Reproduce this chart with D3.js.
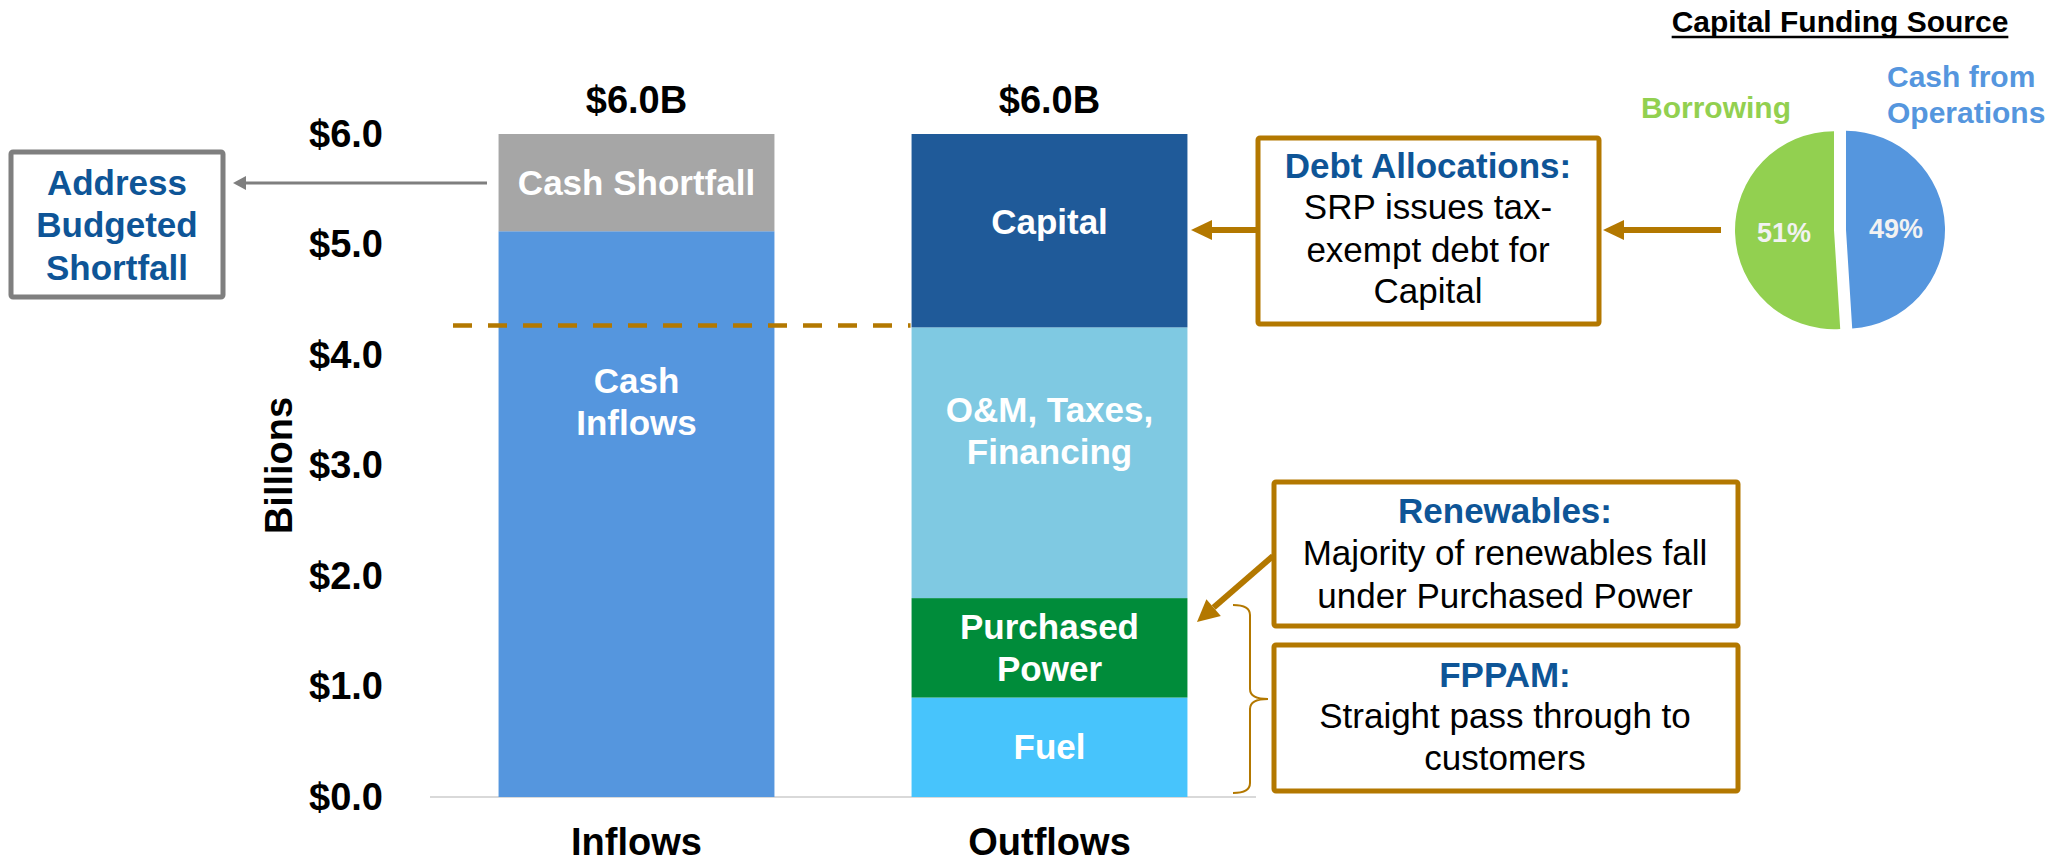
<!DOCTYPE html>
<html>
<head>
<meta charset="utf-8">
<script src="https://cdn.jsdelivr.net/npm/d3@7"></script>
<style>
  html, body { margin: 0; padding: 0; background: #fff; }
  svg { display: block; font-family: "Liberation Sans", Arial, sans-serif; }
</style>
</head>
<body>
<svg id="chart" width="2051" height="863"></svg>
<script>
// ---------------- DATA ----------------
const categories = ["Inflows", "Outflows"];
const totalLabels = ["$6.0B", "$6.0B"];

const inflowSegments = ["Cash Inflows", "Cash Shortfall"];
const inflowValues = [5.12, 0.88];

const outflowSegments = ["Fuel", "Purchased Power", "O&M, Taxes, Financing", "Capital"];
const outflowValues = [0.9, 0.9, 2.45, 1.75];

const yTicks = [0, 1, 2, 3, 4, 5, 6];
const debtThreshold = 4.25;

const pieNames = ["Cash from Operations", "Borrowing"];
const pieValues = [49, 51];

// ---------------- STYLE ----------------
const segColors = {
  "Cash Inflows": "#5596DE",
  "Cash Shortfall": "#A6A6A6",
  "Fuel": "#47C4FC",
  "Purchased Power": "#008C3A",
  "O&M, Taxes, Financing": "#7FC9E2",
  "Capital": "#1F5A99"
};
const segLabelLines = {
  "Cash Inflows": ["Cash", "Inflows"],
  "Cash Shortfall": ["Cash Shortfall"],
  "Fuel": ["Fuel"],
  "Purchased Power": ["Purchased", "Power"],
  "O&M, Taxes, Financing": ["O&M, Taxes,", "Financing"],
  "Capital": ["Capital"]
};
// vertical shift of label block relative to segment centre (px)
const segLabelShift = {
  "Cash Inflows": -112, "Cash Shortfall": 0, "Fuel": 0,
  "Purchased Power": 0, "O&M, Taxes, Financing": -32, "Capital": -9
};
const pieColors = ["#5596DE", "#92D050"];
const gold = "#B37800";
const headBlue = "#0E5597";

const svg = d3.select("#chart");

// ---------------- SCALES ----------------
const y = d3.scaleLinear().domain([0, 6]).range([797, 134]);
const x = d3.scaleBand().domain(categories).range([430, 1256])
  .paddingInner(0.332).paddingOuter(0.166);

// Stack data
function stackUp(names, vals) {
  let acc = 0;
  return names.map((n, i) => { const d = { name: n, y0: acc, y1: acc + vals[i] }; acc += vals[i]; return d; });
}
const stacks = [
  { cat: categories[0], segs: stackUp(inflowSegments, inflowValues) },
  { cat: categories[1], segs: stackUp(outflowSegments, outflowValues) }
];

// ---------------- AXES ----------------
// baseline
svg.append("line")
  .attr("x1", x.range()[0]).attr("x2", x.range()[1])
  .attr("y1", y(0)).attr("y2", y(0))
  .attr("stroke", "#D9D9D9").attr("stroke-width", 2);

const yAxis = svg.append("g").attr("transform", "translate(383,0)")
  .call(d3.axisLeft(y).tickValues(yTicks).tickSize(0).tickPadding(0)
    .tickFormat(d => "$" + d.toFixed(1)));
yAxis.select(".domain").remove();
yAxis.selectAll("text").attr("font-size", 38).attr("font-weight", "bold")
  .attr("fill", "#000").attr("font-family", "Liberation Sans, Arial, sans-serif");

const xAxis = svg.append("g").attr("transform", `translate(0,${y(0)})`)
  .call(d3.axisBottom(x).tickSize(0).tickPadding(31));
xAxis.select(".domain").remove();
xAxis.selectAll("text").attr("font-size", 38).attr("font-weight", "bold")
  .attr("fill", "#000").attr("font-family", "Liberation Sans, Arial, sans-serif");

// y-axis title
svg.append("text")
  .attr("transform", `translate(292,${(y(0) + y(6)) / 2}) rotate(-90)`)
  .attr("text-anchor", "middle")
  .attr("font-size", 38).attr("font-weight", "bold").attr("fill", "#000")
  .text("Billions");

// ---------------- BARS ----------------
stacks.forEach(st => {
  const g = svg.append("g");
  g.selectAll("rect").data(st.segs).join("rect")
    .attr("x", x(st.cat)).attr("width", x.bandwidth())
    .attr("y", d => y(d.y1)).attr("height", d => y(d.y0) - y(d.y1))
    .attr("fill", d => segColors[d.name]);
  st.segs.forEach(d => {
    const lines = segLabelLines[d.name];
    const cy = (y(d.y0) + y(d.y1)) / 2 + segLabelShift[d.name];
    const lh = 42;
    const t = g.append("text").attr("text-anchor", "middle")
      .attr("font-size", 35).attr("font-weight", "bold").attr("fill", "#fff");
    lines.forEach((ln, i) => {
      t.append("tspan").attr("x", x(st.cat) + x.bandwidth() / 2)
        .attr("y", cy + (i - (lines.length - 1) / 2) * lh + 12)
        .text(ln);
    });
  });
});

// totals above bars
svg.selectAll(".total").data(categories).join("text")
  .attr("class", "total")
  .attr("x", d => x(d) + x.bandwidth() / 2)
  .attr("y", y(6) - 21)
  .attr("text-anchor", "middle")
  .attr("font-size", 38).attr("font-weight", "bold").attr("fill", "#000")
  .text((d, i) => totalLabels[i]);

// dashed threshold line
svg.append("line")
  .attr("x1", 453).attr("x2", x(categories[1]) - 1)
  .attr("y1", y(debtThreshold) - 2).attr("y2", y(debtThreshold) - 2)
  .attr("stroke", gold).attr("stroke-width", 4.5)
  .attr("stroke-dasharray", "19,16");

// ---------------- HELPERS ----------------
function arrow(x1, y1, x2, y2, color, w, headLen, headHalf) {
  const ang = Math.atan2(y2 - y1, x2 - x1);
  const bx = x2 - headLen * Math.cos(ang), by = y2 - headLen * Math.sin(ang);
  svg.append("line").attr("x1", x1).attr("y1", y1).attr("x2", bx).attr("y2", by)
    .attr("stroke", color).attr("stroke-width", w);
  const px = -Math.sin(ang), py = Math.cos(ang);
  svg.append("polygon")
    .attr("points", [[x2, y2], [bx + px * headHalf, by + py * headHalf], [bx - px * headHalf, by - py * headHalf]]
      .map(p => p.join(",")).join(" "))
    .attr("fill", color);
}
function textBox(x0, y0, w, h, stroke, sw, cx, lines) {
  svg.append("rect").attr("x", x0).attr("y", y0).attr("width", w).attr("height", h)
    .attr("rx", 2).attr("fill", "#fff").attr("stroke", stroke).attr("stroke-width", sw);
  const t = svg.append("text").attr("text-anchor", "middle").attr("font-size", 35);
  lines.forEach(l => {
    t.append("tspan").attr("x", cx).attr("y", l.y)
      .attr("font-weight", l.bold ? "bold" : "normal")
      .attr("fill", l.color || "#000").text(l.text);
  });
}

// ---------------- ANNOTATIONS ----------------
// Address Budgeted Shortfall box
textBox(11, 152, 212, 145, "#7F7F7F", 5, 117, [
  { text: "Address", y: 195, bold: true, color: headBlue },
  { text: "Budgeted", y: 237, bold: true, color: headBlue },
  { text: "Shortfall", y: 280, bold: true, color: headBlue }
]);
arrow(487, 183, 233, 183, "#7F7F7F", 3, 13, 7);

// Debt allocations box
textBox(1258, 138, 341, 186, gold, 5, 1428, [
  { text: "Debt Allocations:", y: 178, bold: true, color: headBlue },
  { text: "SRP issues tax-", y: 219 },
  { text: "exempt debt for", y: 262 },
  { text: "Capital", y: 303 }
]);
arrow(1256, 230, 1191, 230, gold, 6, 21, 10);
arrow(1721, 230, 1603, 230, gold, 6, 21, 10);

// Renewables box
textBox(1274, 482, 464, 144, gold, 5, 1505, [
  { text: "Renewables:", y: 523, bold: true, color: headBlue },
  { text: "Majority of renewables fall", y: 565 },
  { text: "under Purchased Power", y: 608 }
]);
arrow(1273, 556, 1197, 622, gold, 6, 22, 11);

// FPPAM box
textBox(1274, 645, 464, 146, gold, 5, 1505, [
  { text: "FPPAM:", y: 687, bold: true, color: headBlue },
  { text: "Straight pass through to", y: 728 },
  { text: "customers", y: 770 }
]);

// curly brace
svg.append("path")
  .attr("d", "M1233,605 Q1250,605 1250,615 L1250,689 Q1250,699 1268,699 Q1250,699 1250,709 L1250,783 Q1250,793 1233,793")
  .attr("fill", "none").attr("stroke", gold).attr("stroke-width", 2);

// ---------------- PIE ----------------
const pcx = 1840, pcy = 230, pr = 99, explode = 6;
const pie = d3.pie().sort(null).value(d => d)(pieValues);
const arcGen = d3.arc().innerRadius(0).outerRadius(pr);
const pieG = svg.append("g").attr("transform", `translate(${pcx},${pcy})`);
pie.forEach((p, i) => {
  const mid = (p.startAngle + p.endAngle) / 2;
  const dx = explode * Math.sin(mid), dy = -explode * Math.cos(mid);
  pieG.append("path").attr("d", arcGen(p)).attr("fill", pieColors[i])
    .attr("transform", `translate(${dx},${dy})`);
  const lr = 50 + explode;
  pieG.append("text")
    .attr("x", lr * Math.sin(mid)).attr("y", -lr * Math.cos(mid) + 10)
    .attr("text-anchor", "middle").attr("font-size", 27).attr("font-weight", "bold")
    .attr("fill", "#F2F2F2").text(pieValues[i] + "%");
});

// pie labels
svg.append("text").attr("x", 1716).attr("y", 118).attr("text-anchor", "middle")
  .attr("font-size", 30).attr("font-weight", "bold").attr("fill", pieColors[1]).text(pieNames[1]);
const cfo = svg.append("text").attr("font-size", 30).attr("font-weight", "bold").attr("fill", pieColors[0]);
cfo.append("tspan").attr("x", 1887).attr("y", 87).text("Cash from");
cfo.append("tspan").attr("x", 1887).attr("y", 123).text("Operations");

// title
const title = svg.append("text").attr("x", 1840).attr("y", 32).attr("text-anchor", "middle")
  .attr("font-size", 30).attr("font-weight", "bold").attr("fill", "#000")
  .text("Capital Funding Source");
const tw = title.node().getComputedTextLength();
svg.append("line").attr("x1", 1840 - tw / 2).attr("x2", 1840 + tw / 2)
  .attr("y1", 37).attr("y2", 37).attr("stroke", "#000").attr("stroke-width", 2.5);
</script>
</body>
</html>
